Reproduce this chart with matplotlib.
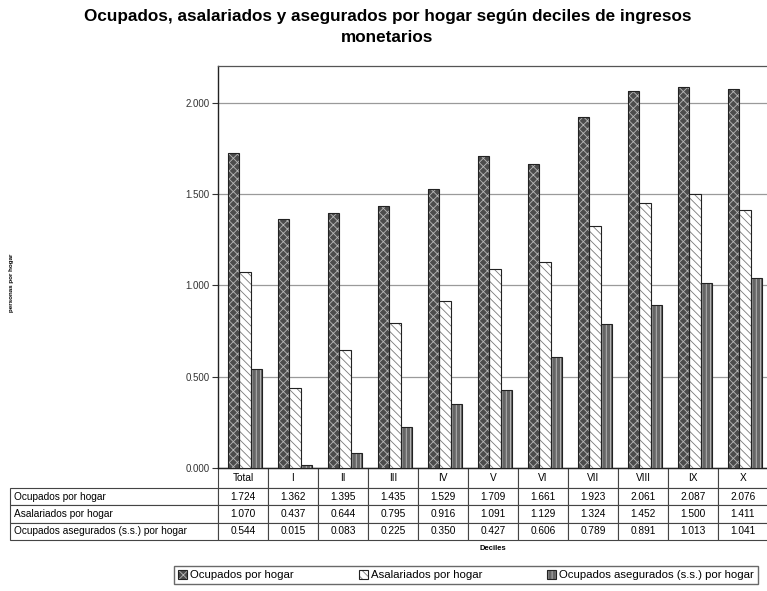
import matplotlib
matplotlib.use('Agg')

import matplotlib.pyplot as plt
from matplotlib.patches import Patch
from matplotlib.legend_handler import HandlerTuple
from matplotlib.table import Table

plt.rcParams['font.family'] = ['Liberation Sans', 'DejaVu Sans']
plt.rcParams['hatch.linewidth'] = 0.6

# data
deciles = ['Total', 'I', 'II', 'III', 'IV', 'V', 'VI', 'VII', 'VIII', 'IX', 'X']
ocupados = [1.724, 1.362, 1.395, 1.435, 1.529, 1.709, 1.661, 1.923, 2.061, 2.087, 2.076]
asalariados = [1.070, 0.437, 0.644, 0.795, 0.916, 1.091, 1.129, 1.324, 1.452, 1.500, 1.411]
asegurados = [0.544, 0.015, 0.083, 0.225, 0.350, 0.427, 0.606, 0.789, 0.891, 1.013, 1.041]
series_names = ['Ocupados por hogar', 'Asalariados por hogar',
                'Ocupados asegurados (s.s.) por hogar']
series = [ocupados, asalariados, asegurados]

# face colour, hatch, hatch colour for each series
styles = [('#4c4c4c', 'xxxx', '#b8b8b8'),
          ('white', '\\\\\\\\', '#7a7a7a'),
          ('#666666', '||||', '#c0c0c0')]

fig = plt.figure(figsize=(7.67, 5.91), dpi=100)
ax = fig.add_axes([218 / 767, 1 - 468 / 591, 550 / 767, 402 / 591])

width = 0.23
offsets = [-0.19, 0.04, 0.27]
handles = []
for vals, off, (fc, hatch, hc) in zip(series, offsets, styles):
    xs = [i + off for i in range(len(deciles))]
    ax.bar(xs, vals, width=width, color=fc, hatch=hatch, edgecolor=hc,
           linewidth=0, zorder=3)
    ax.bar(xs, vals, width=width, fill=False, edgecolor='#222222',
           linewidth=0.8, zorder=4)
    handles.append((Patch(facecolor=fc, hatch=hatch, edgecolor=hc, linewidth=0),
                    Patch(fill=False, edgecolor='#222222', linewidth=0.8)))

ax.set_xlim(-0.5, len(deciles) - 0.5)
ax.set_ylim(0, 2.2)
ax.set_yticks([0, 0.5, 1.0, 1.5, 2.0])
ax.set_yticklabels([f'{v:.3f}' for v in [0, 0.5, 1.0, 1.5, 2.0]],
                   fontsize=7, color='#333333')
ax.tick_params(axis='y', length=4, width=0.8, color='#333333', pad=2)
ax.set_xticks([])
ax.grid(axis='y', color='#9a9a9a', linewidth=0.9, zorder=0)
ax.set_axisbelow(True)
for side in ['left', 'bottom']:
    ax.spines[side].set_color('#222222')
    ax.spines[side].set_linewidth(1.0)
for side in ['top', 'right']:
    ax.spines[side].set_color('#555555')
    ax.spines[side].set_linewidth(0.9)

# data table under the chart
label_w = 208 / 550
col_w = 50 / 550
head_h = 20 / 402
row_h = 17.3 / 402
tbl = Table(ax, bbox=[-label_w, -(head_h + 3 * row_h), label_w + col_w * len(deciles),
                      head_h + 3 * row_h])
hc = tbl.add_cell(0, 0, width=label_w, height=head_h, text='')
hc.visible_edges = ''
for j, d in enumerate(deciles):
    tbl.add_cell(0, j + 1, width=col_w, height=head_h, text=d, loc='center')
for r, (name, vals) in enumerate(zip(series_names, series)):
    tbl.add_cell(r + 1, 0, width=label_w, height=row_h, text=name, loc='left')
    for j, v in enumerate(vals):
        tbl.add_cell(r + 1, j + 1, width=col_w, height=row_h, text=f'{v:.3f}',
                     loc='center')
tbl.auto_set_font_size(False)
tbl.set_fontsize(7.3)
for cell in tbl.get_celld().values():
    cell.set_edgecolor('#444444')
    cell.set_linewidth(0.8)
    cell.PAD = 0.02
ax.add_table(tbl)

fig.text(0.505, 1 - 16 / 591,
         'Ocupados, asalariados y asegurados por hogar según deciles de ingresos',
         ha='center', va='center', fontsize=12.3, fontweight='bold')
fig.text(0.505, 1 - 37 / 591, 'monetarios', ha='center', va='center',
         fontsize=12.3, fontweight='bold')
fig.text(12 / 767, 1 - 283 / 591, 'personas por hogar', rotation=90,
         ha='center', va='center', fontsize=4.5, fontweight='bold')
fig.text(493 / 767, 1 - 549 / 591, 'Deciles', ha='center', va='center',
         fontsize=5.5, fontweight='bold')

fig.legend(handles, series_names, handler_map={tuple: HandlerTuple(ndivide=1, pad=0)},
           loc='center', bbox_to_anchor=(466 / 767, 1 - 575 / 591), ncol=3,
           fontsize=8.2, frameon=True, fancybox=False, edgecolor='#444444',
           handlelength=0.8, handleheight=0.8, handletextpad=0.25,
           columnspacing=5.7, borderpad=0.35)

fig.savefig('out.png', dpi=100)
plt.close(fig)
